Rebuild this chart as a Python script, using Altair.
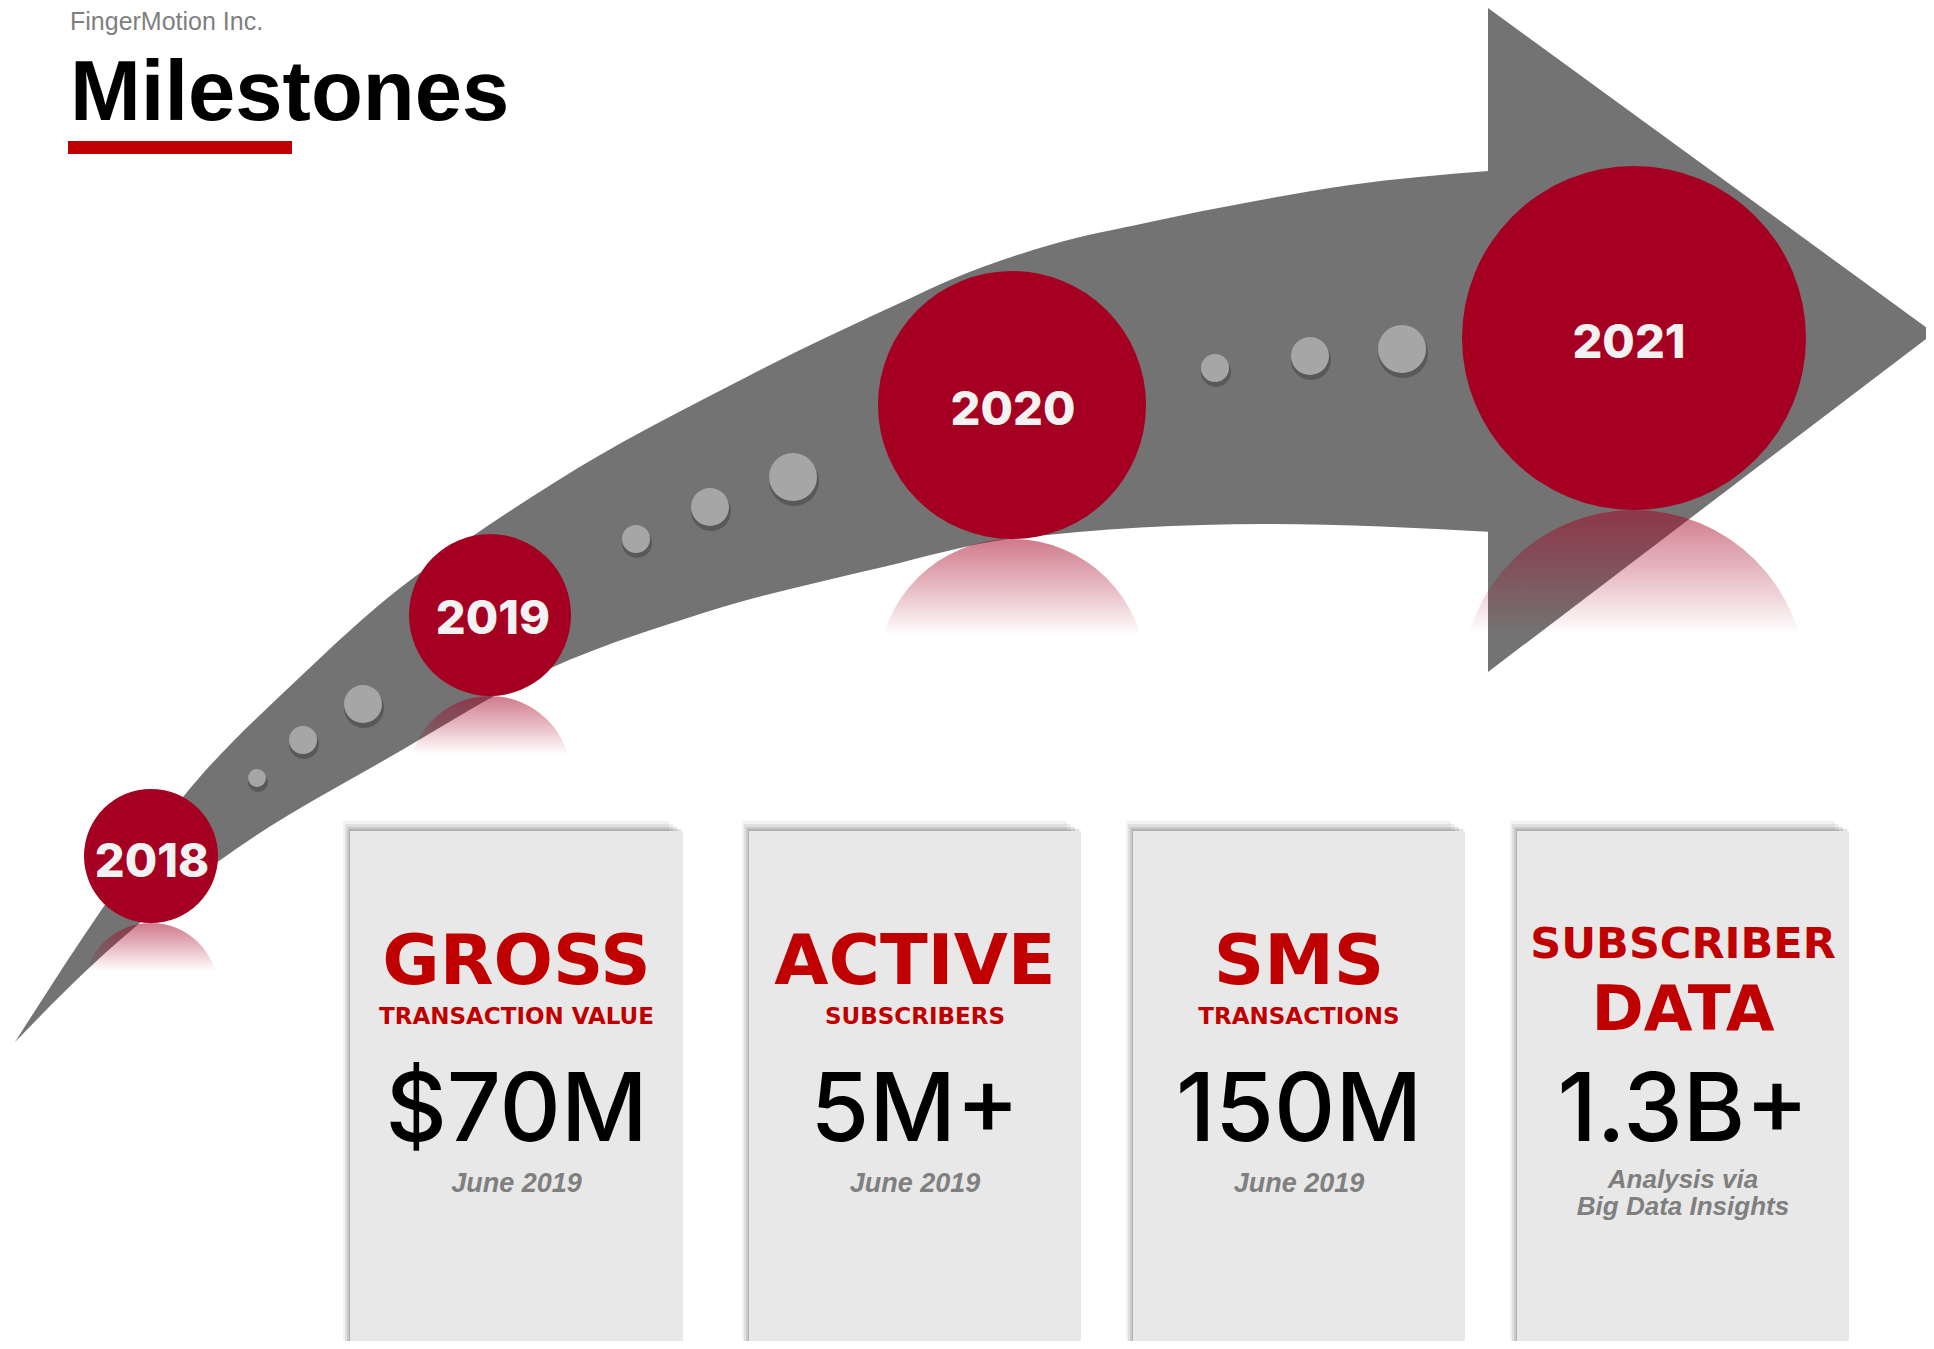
import altair as alt
import pandas as pd

# ---------------- data ----------------
company = "FingerMotion Inc."
title = "Milestones"

years = ["2018", "2019", "2020", "2021"]
year_cx = [151, 490, 1012, 1634]
year_cy = [856, 615, 405, 338]
year_r = [67, 81, 134, 172]
label_x = [152, 493, 1013, 1629]
label_base = [877, 634, 425, 358]

dot_x = [257, 303, 363, 636, 710, 793, 1215, 1310, 1402]
dot_y = [778, 740, 704, 539, 507, 477, 368, 356, 349]
dot_r = [9, 14, 19, 14, 19, 24, 14, 19, 24]

upper_x = [15, 100, 183, 300, 400, 467, 600, 700, 800, 900, 950, 1050, 1150, 1250, 1350, 1488]
upper_y = [1042, 912, 797, 677, 588, 540, 455, 401, 350, 303, 280, 245, 222, 202, 185, 171]
lower_x = [15, 89, 219, 402, 527, 700, 883, 1010, 1265, 1492]
lower_y = [1042, 968, 861, 750, 679, 614, 567, 539, 524, 532]
head_x = [1488, 1934]
head_top = [8, 333]
head_bottom = [672, 333]

card_left = [350, 749, 1133, 1517]
card_right = [683, 1081, 1465, 1849]
card_top = 831
card_bottom = 1341

head_words = ["GROSS", "ACTIVE", "SMS"]
sub_words = ["TRANSACTION VALUE", "SUBSCRIBERS", "TRANSACTIONS"]
card4_head = "SUBSCRIBER"
card4_sub = "DATA"
values = ["$70M", "5M+", "150M", "1.3B+"]
notes = ["June 2019", "June 2019", "June 2019"]
card4_notes = ["Analysis via", "Big Data Insights"]

# ---------------- layout helpers ----------------
W, H = 1918, 1333
xs = alt.Scale(domain=[8, 8 + W], nice=False, zero=False)
ys = alt.Scale(domain=[8, 8 + H], nice=False, zero=False, reverse=True)

RED = "#A50021"
TXT_RED = "#C00000"
GRAY = "#737373"
DOT = "#A6A6A6"
CARD = "#E8E8E8"
HEAD_FONT = "DejaVu Sans"


def X(f="x"):
    return alt.X(f"{f}:Q", scale=xs, axis=None)


def Y(f="y"):
    return alt.Y(f"{f}:Q", scale=ys, axis=None)


def R(f="r"):
    return alt.Radius(f"{f}:Q", scale=None, stack=None)


centers = [(l + r) / 2 for l, r in zip(card_left, card_right)]

# arrow body: gray below the upper edge, white below the lower edge
up_df = pd.DataFrame({"x": upper_x, "y": upper_y, "b": card_bottom})
lo_df = pd.DataFrame({"x": lower_x, "y": lower_y, "b": card_bottom})
hd_df = pd.DataFrame({"x": head_x, "y": head_top, "y2": head_bottom})

body = alt.Chart(up_df).mark_area(color=GRAY, interpolate="monotone").encode(
    x=X(), y=Y(), y2="b:Q")
cover = alt.Chart(lo_df).mark_area(color="white", interpolate="monotone").encode(
    x=X(), y=Y(), y2="b:Q")
head = alt.Chart(hd_df).mark_area(color=GRAY).encode(x=X(), y=Y(), y2="y2:Q")

yr = pd.DataFrame({"year": years, "x": year_cx, "y": year_cy, "r": year_r,
                   "lx": label_x, "ly": label_base})
yr["ry"] = yr["y"] + 2 * yr["r"]

refl_grad = alt.Gradient(
    gradient="linear", x1=0, x2=0, y1=0, y2=1,
    stops=[alt.GradientStop(offset=0, color="rgba(165,0,33,0.52)"),
           alt.GradientStop(offset=0.35, color="rgba(165,0,33,0.28)"),
           alt.GradientStop(offset=0.72, color="rgba(165,0,33,0)"),
           alt.GradientStop(offset=1, color="rgba(165,0,33,0)")])

reflect = alt.Chart(yr).mark_arc(fill=refl_grad).encode(
    x=X(), y=Y("ry"), radius=R(),
    theta=alt.value(4.712389), theta2=alt.value(7.853982))

circles = alt.Chart(yr).mark_arc(color=RED).encode(
    x=X(), y=Y(), radius=R(),
    theta=alt.value(0), theta2=alt.value(6.2831853))

year_lbl = alt.Chart(yr).mark_text(
    font="Inter", fontWeight=800, fontSize=47, color="#F2F2F2",
    align="center", baseline="alphabetic").encode(x=X("lx"), y=Y("ly"), text="year:N")

dots = pd.DataFrame({"x": dot_x, "y": dot_y, "r": dot_r})
dots["sx"] = dots["x"] + 1
dots["sy"] = dots["y"] + 4
dots["sr"] = dots["r"] + 1
dot_shadow = alt.Chart(dots).mark_arc(color="#3a3a3a", opacity=0.45).encode(
    x=X("sx"), y=Y("sy"), radius=R("sr"),
    theta=alt.value(0), theta2=alt.value(6.2831853))
dot_marks = alt.Chart(dots).mark_arc(color=DOT).encode(
    x=X(), y=Y(), radius=R(),
    theta=alt.value(0), theta2=alt.value(6.2831853))

cards = pd.DataFrame({"x": card_left, "x2": card_right, "y": card_top, "y2": card_bottom})
shadow_layers = []
for dx, dy, op in [(7, 10, 0.05), (5, 7, 0.07), (3, 4, 0.10), (1, 2, 0.12)]:
    s = cards.copy()
    s["x"] = s["x"] - dx
    s["x2"] = s["x2"] - 2 * dx
    s["y"] = s["y"] - dy
    shadow_layers.append(alt.Chart(s).mark_rect(color="#000000", opacity=op).encode(
        x=X(), x2="x2:Q", y=Y(), y2="y2:Q"))
card_marks = alt.Chart(cards).mark_rect(color=CARD).encode(
    x=X(), x2="x2:Q", y=Y(), y2="y2:Q")


def text_layer(texts, xs_, ys_, **props):
    df = pd.DataFrame({"t": texts, "x": xs_, "y": ys_})
    base = dict(align="center", baseline="alphabetic")
    base.update(props)
    return alt.Chart(df).mark_text(**base).encode(x=X(), y=Y(), text="t:N")


t_head = text_layer(head_words, centers[:3], [984] * 3, font=HEAD_FONT, fontWeight="bold",
                    fontSize=70, color=TXT_RED)
t_sub = text_layer(sub_words, centers[:3], [1024] * 3, font=HEAD_FONT, fontWeight="bold",
                   fontSize=23, color=TXT_RED)
t_c4h = text_layer([card4_head], [centers[3]], [958], font=HEAD_FONT, fontWeight="bold",
                   fontSize=43, color=TXT_RED)
t_c4s = text_layer([card4_sub], [centers[3]], [1030], font=HEAD_FONT, fontWeight="bold",
                   fontSize=63, color=TXT_RED)
t_val = text_layer(values, centers, [1141] * 4, font="Inter", fontWeight=500,
                   fontSize=95, color="#000000")
t_note = text_layer(notes, centers[:3], [1192] * 3, font="Liberation Sans",
                    fontWeight="bold", fontStyle="italic", fontSize=27, color="#7F7F7F")
t_c4n = text_layer(card4_notes, [centers[3]] * 2, [1188, 1215], font="Liberation Sans",
                   fontWeight="bold", fontStyle="italic", fontSize=26, color="#7F7F7F")

t_company = text_layer([company], [70], [30], align="left", font="Liberation Sans",
                       fontSize=25, color="#7F7F7F")
t_title = text_layer([title], [70], [120], align="left", font="Liberation Sans",
                     fontWeight="bold", fontSize=85, color="#000000")
ul = pd.DataFrame({"x": [68], "x2": [292], "y": [141], "y2": [154]})
underline = alt.Chart(ul).mark_rect(color=TXT_RED).encode(
    x=X(), x2="x2:Q", y=Y(), y2="y2:Q")

chart = alt.layer(
    body, cover, head, reflect, circles, year_lbl, dot_shadow, dot_marks,
    *shadow_layers, card_marks,
    t_head, t_sub, t_c4h, t_c4s, t_val, t_note, t_c4n,
    t_company, t_title, underline,
).properties(
    width=W, height=H, padding=0, autosize=alt.AutoSizeParams(type="none"),
).configure_view(stroke=None)

chart.save("out.html", embed_options={"renderer": "svg", "actions": False})
